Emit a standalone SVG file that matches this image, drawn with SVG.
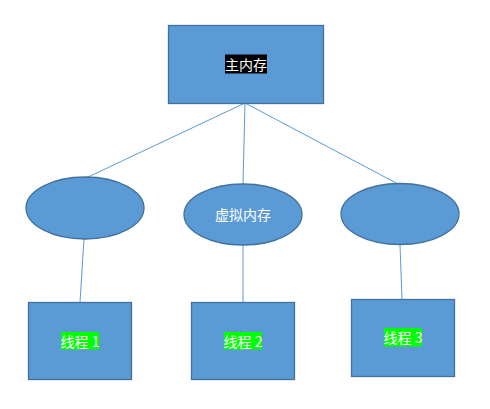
<svg xmlns="http://www.w3.org/2000/svg" width="490" height="409" viewBox="0 0 490 409">
<style>
.shape{fill:#5b9bd5;stroke:#41719c;stroke-width:1.3}
.conn line{stroke:#5b9bd5;stroke-width:1}
.lbl{font-family:"Microsoft YaHei","Noto Sans CJK SC",sans-serif;font-size:14px;fill:#ffffff;text-anchor:middle;dominant-baseline:central}
</style>
<rect width="490" height="409" fill="#ffffff"/>
<g class="conn" id="connectors">
<line x1="245" y1="103" x2="87" y2="177.5"/>
<line x1="245" y1="103" x2="243" y2="184"/>
<line x1="245" y1="103" x2="398" y2="184"/>
<line x1="84" y1="239" x2="80" y2="302"/>
<line x1="243" y1="245" x2="243" y2="302"/>
<line x1="400" y1="245" x2="402" y2="299"/>
</g>
<g id="main-memory">
<rect class="shape" x="168.5" y="25.5" width="155" height="78"/>
<rect x="225" y="54.5" width="42" height="19" fill="#000000"/>
<text class="lbl" x="246" y="64">主内存</text>
</g>
<g id="ellipse-left">
<ellipse class="shape" cx="85" cy="208" rx="59" ry="31"/>
</g>
<g id="virtual-memory">
<ellipse class="shape" cx="243" cy="214.5" rx="59" ry="30.5"/>
<text class="lbl" x="243" y="214">虚拟内存</text>
</g>
<g id="ellipse-right">
<ellipse class="shape" cx="400" cy="214" rx="59" ry="30.5"/>
</g>
<g id="thread-1">
<rect class="shape" x="28.5" y="302.5" width="103" height="77"/>
<rect x="61" y="332" width="38" height="17.5" fill="#00ff00"/>
<text class="lbl" x="80" y="340.5">线程 1</text>
</g>
<g id="thread-2">
<rect class="shape" x="191.5" y="302.5" width="103" height="77"/>
<rect x="224" y="332" width="38" height="17.5" fill="#00ff00"/>
<text class="lbl" x="243" y="340.5">线程 2</text>
</g>
<g id="thread-3">
<rect class="shape" x="351.5" y="299.5" width="103" height="77"/>
<rect x="384" y="328" width="38" height="18.5" fill="#00ff00"/>
<text class="lbl" x="403" y="337">线程 3</text>
</g>
</svg>
